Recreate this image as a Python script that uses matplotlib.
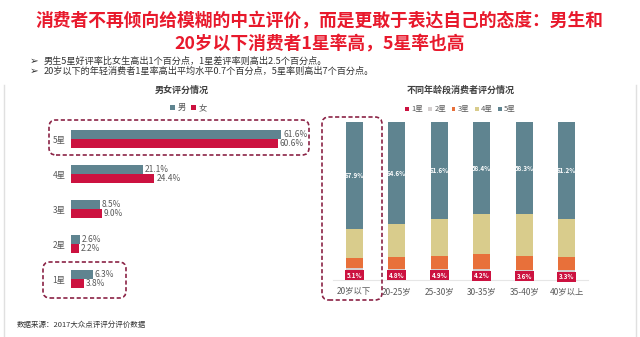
import matplotlib.pyplot as plt
from matplotlib.patches import FancyBboxPatch
import numpy as np

plt.rcParams['font.family'] = ['Noto Sans CJK SC', 'DejaVu Sans']

# 男女评分情况
stars = ['1星', '2星', '3星', '4星', '5星']
male = [6.3, 2.6, 8.5, 21.1, 61.6]
female = [3.8, 2.2, 9.0, 24.4, 60.6]

# 不同年龄段消费者评分情况
ages = ['20岁以下', '20-25岁', '25-30岁', '30-35岁', '35-40岁', '40岁以上']
s1 = [5.1, 4.8, 4.9, 4.2, 3.6, 3.3]
s2 = [2.3, 2.1, 2.1, 2.6, 2.7, 3.0]
s3 = [6.3, 7.6, 8.0, 9.5, 9.0, 8.5]
s4 = [18.4, 20.9, 23.4, 25.3, 26.4, 24.0]
s5 = [67.9, 64.6, 61.6, 58.4, 58.3, 61.2]

c_male = '#5F8490'
c_female = '#CC1240'
seg_colors = ['#CC1240', '#D4CFCF', '#E8703A', '#D9CC8C', '#5F8490']
grey = '#595959'

fig = plt.figure(figsize=(6.4, 3.37), dpi=100)
W, H = 640, 337


def px(x, y):
    return x / 100, (H - y) / 100


# title and notes
title_red = '#E8192C'
fig.text(0.5, 1 - 21 / H, '消费者不再倾向给模糊的中立评价，而是更敢于表达自己的态度：男生和',
         ha='center', va='center', fontsize=12.8, fontweight='bold', color=title_red)
fig.text(0.5, 1 - 44 / H, '20岁以下消费者1星率高，5星率也高',
         ha='center', va='center', fontsize=12.8, fontweight='bold', color=title_red)
notes = ['男生5星好评率比女生高出1个百分点，1星差评率则高出2.5个百分点。',
         '20岁以下的年轻消费者1星率高出平均水平0.7个百分点，5星率则高出7个百分点。']
for i, t in enumerate(notes):
    yy = 1 - (61 + 10 * i) / H
    fig.text(30 / W, yy, '➢', ha='left', va='center', fontsize=7.5, color='#333333',
             family=['DejaVu Sans'])
    fig.text(44 / W, yy, t, ha='left', va='center', fontsize=6.6, color='#333333')

fig.text(17 / W, 1 - 325 / H, '数据来源：2017大众点评评分评价数据', ha='left', va='center',
         fontsize=5.4, color='#333333')

# panel frame lines
fig.add_artist(plt.Line2D([4 / W, 4 / W], [0, 1 - 85 / H], color='#E0E0E0', lw=1))
fig.add_artist(plt.Line2D([636 / W, 636 / W], [0, 1 - 85 / H], color='#E0E0E0', lw=1))

# left chart
ax1 = fig.add_axes([71 / W, 0.0994, 239 / W, 0.5608])
y = np.arange(len(stars))
bh = 0.26
ax1.barh(y + bh / 2, male, height=bh, color=c_male, label='男')
ax1.barh(y - bh / 2, female, height=bh, color=c_female, label='女')
for i in range(len(stars)):
    ax1.text(male[i] + 0.6, y[i] + bh / 2, f'{male[i]:.1f}%', va='center', ha='left',
             fontsize=6, color=grey)
    ax1.text(female[i] + 0.6, y[i] - bh / 2, f'{female[i]:.1f}%', va='center', ha='left',
             fontsize=6, color=grey)
ax1.set_xlim(0, 70)
ax1.set_ylim(-0.7, 4.7)
ax1.set_yticks(y)
ax1.set_yticklabels(stars, fontsize=6, color=grey)
ax1.set_xticks([])
ax1.tick_params(axis='y', length=0, pad=4)
for s in ax1.spines.values():
    s.set_visible(False)
ax1.legend(loc='lower center', bbox_to_anchor=(0.49, 0.99), ncol=2, frameon=False,
           fontsize=6, handlelength=0.6, handleheight=0.6, handletextpad=0.3,
           columnspacing=0.6, labelcolor=grey, borderaxespad=0.1)
fig.text(182 / W, 1 - 90 / H, '男女评分情况', ha='center', va='center', fontsize=6.5,
         fontweight='bold', color='#404040')

# right chart
ax2 = fig.add_axes([333 / W, 1 - 280 / H, 255 / W, 158 / H])
x = np.arange(len(ages))
bw = 0.4
bottom = np.zeros(len(ages))
segs = [s1, s2, s3, s4, s5]
names = ['1星', '2星', '3星', '4星', '5星']
for vals, col, nm in zip(segs, seg_colors, names):
    ax2.bar(x, vals, bottom=bottom, width=bw, color=col, label=nm)
    bottom = bottom + np.array(vals)
bot5 = np.array(s1) + np.array(s2) + np.array(s3) + np.array(s4)
for i in range(len(ages)):
    ax2.text(x[i], bot5[i] + s5[i] / 2, f'{s5[i]:.1f}%', ha='center', va='center',
             fontsize=4.5, color='white', fontweight='bold')
    ax2.text(x[i], s1[i] / 2 + 0.5, f'{s1[i]:.1f}%', ha='center', va='center',
             fontsize=4.5, color='white', fontweight='bold',
             bbox=dict(boxstyle='square,pad=0.25', fc=c_female, ec='none'))
ax2.set_xlim(-0.5, 5.5)
ax2.set_ylim(0, 100)
ax2.set_xticks(x)
ax2.set_xticklabels(ages, fontsize=6, color=grey)
ax2.set_yticks([])
ax2.tick_params(axis='x', length=0, pad=5)
for k, s in ax2.spines.items():
    s.set_visible(k == 'bottom')
ax2.spines['bottom'].set_color('#E6E6E6')
ax2.legend(loc='lower center', bbox_to_anchor=(0.5, 1.03), ncol=5, frameon=False,
           fontsize=5.5, handlelength=0.5, handleheight=0.5, handletextpad=0.3,
           columnspacing=0.7, labelcolor=grey, borderaxespad=0.1)
fig.text(461 / W, 1 - 90 / H, '不同年龄段消费者评分情况', ha='center', va='center',
         fontsize=6.5, fontweight='bold', color='#404040')

# dashed highlight boxes
box_color = '#8B2346'
for (x0, y0, x1, y1) in [(49, 120, 309, 155), (43, 262, 126, 298), (322, 117, 382, 300)]:
    a, b = px(x0, y1)
    w = (x1 - x0) / 100
    h = (y1 - y0) / 100
    fig.add_artist(FancyBboxPatch((a, b), w, h, boxstyle='round,pad=0,rounding_size=0.07',
                                  transform=fig.dpi_scale_trans, fill=False,
                                  ec=box_color, lw=1.2, ls=(0, (2.5, 1.5))))

fig.savefig('out.png', dpi=100, facecolor='white')
